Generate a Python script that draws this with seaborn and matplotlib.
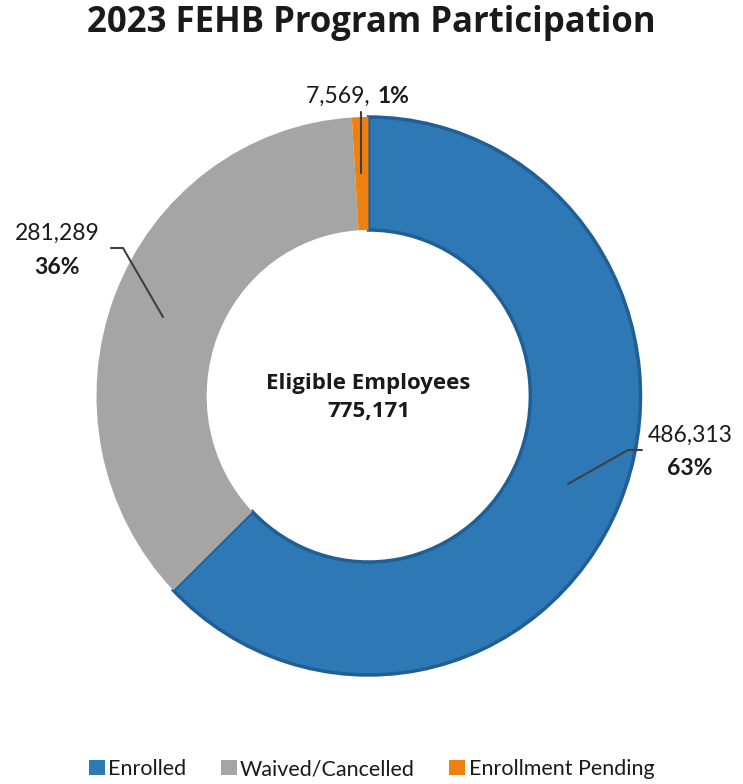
import matplotlib
matplotlib.use("Agg")
import matplotlib.pyplot as plt
import seaborn as sns
from matplotlib.patches import Patch

categories = ["Enrolled", "Waived/Cancelled", "Enrollment Pending"]
counts = [486313, 281289, 7569]
pct_labels = ["63%", "36%", "1%"]
count_labels = ["486,313", "281,289", "7,569"]
center_title = "Eligible Employees"
total_label = "775,171"
colors = ["#2E78B5", "#A5A5A5", "#EE800F"]

sns.set_theme(style="white")
plt.rcParams["font.family"] = ["Lato", "DejaVu Sans"]

W, H = 743, 784
fig = plt.figure(figsize=(W / 100, H / 100), dpi=100)

# donut axes: slightly taller than wide, as in the reference
cx, cy, rx, ry = 368.5, 396, 272, 279
pax = fig.add_axes([(cx - rx) / W, 1 - (cy + ry) / H, 2 * rx / W, 2 * ry / H])
wedges, _ = pax.pie(
    counts, colors=colors, startangle=90, counterclock=False, radius=1,
    wedgeprops=dict(width=0.405, linewidth=0),
)
wedges[0].set_edgecolor("#1F5F96")
wedges[0].set_linewidth(2.5)
pax.set_aspect("auto")
pax.set_xlim(-1, 1)
pax.set_ylim(-1, 1)
pax.axis("off")

# overlay axes in pixel units for labels and leader lines (on top of the donut)
ax = fig.add_axes([0, 0, 1, 1])
ax.set_zorder(3)
ax.set_xlim(0, W)
ax.set_ylim(H, 0)
ax.axis("off")

dark = "#1a1a1a"
fig.text(0.5, 1 - 23 / H, "2023 FEHB Program Participation", ha="center", va="center",
         fontsize=25, fontweight="bold", color=dark, family=["Open Sans", "DejaVu Sans"])

ax.text(cx, 383, center_title, ha="center", va="center", fontsize=16,
        fontweight="bold", color=dark, family=["Open Sans", "DejaVu Sans"])
ax.text(cx, 411, total_label, ha="center", va="center", fontsize=16,
        fontweight="bold", color=dark, family=["Open Sans", "DejaVu Sans"])

lc = "#404040"
fs = 16.5
# enrolled label
ax.plot([642, 628, 568], [450, 450, 484], color=lc, lw=1.5)
ax.text(690, 435, count_labels[0], ha="center", va="center", fontsize=fs, color=dark)
ax.text(690, 468, pct_labels[0], ha="center", va="center", fontsize=fs,
        fontweight="bold", color=dark)
# waived label
ax.plot([111, 123, 163], [248, 248, 317], color=lc, lw=1.5)
ax.text(57, 233, count_labels[1], ha="center", va="center", fontsize=fs, color=dark)
ax.text(57, 268, pct_labels[1], ha="center", va="center", fontsize=fs,
        fontweight="bold", color=dark)
# pending label
ax.plot([361, 361], [112, 173], color=lc, lw=1.5)
ax.text(376, 96, count_labels[2] + ", ", ha="right", va="center", fontsize=fs, color=dark)
ax.text(378, 96, pct_labels[2], ha="left", va="center", fontsize=fs,
        fontweight="bold", color=dark)

handles = [Patch(facecolor=c, edgecolor="none") for c in colors]
fig.legend(handles, categories, loc="center", bbox_to_anchor=(0.5, 1 - 769 / H),
           ncol=3, frameon=False, fontsize=15.5, handlelength=0.75, handleheight=0.75,
           handletextpad=0.15, columnspacing=1.6, labelcolor=dark)

fig.savefig("out.png", dpi=100)
